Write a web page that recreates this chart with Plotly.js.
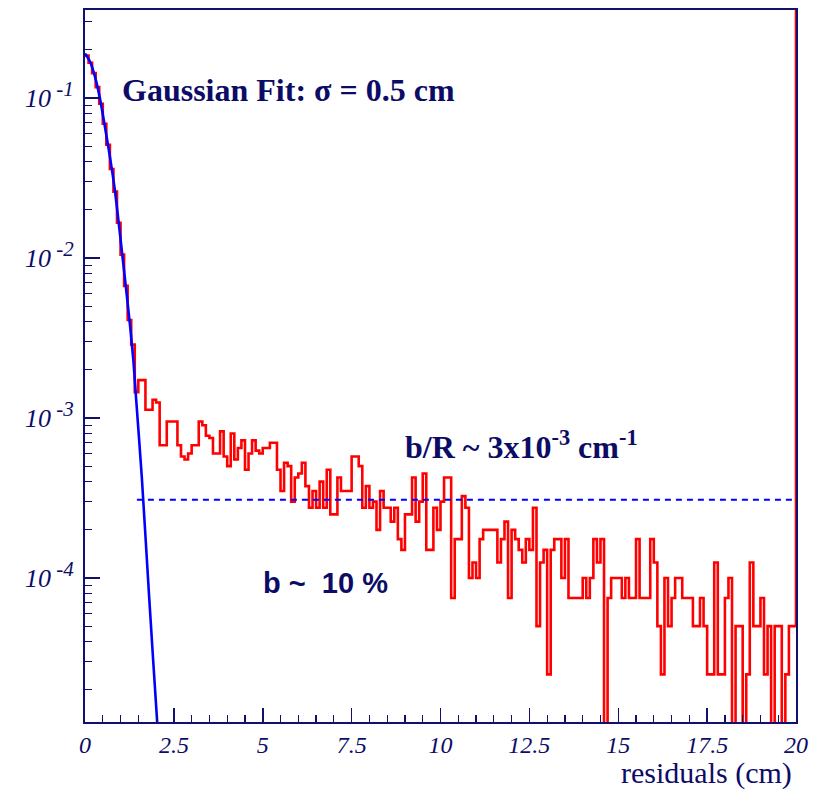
<!DOCTYPE html>
<html>
<head>
<meta charset="utf-8">
<script src="https://cdn.plot.ly/plotly-3.0.1.min.js"></script>
<style>html,body{margin:0;padding:0;background:#fff;}#chart{width:814px;height:790px;}</style>
</head>
<body>
<div id="chart"></div>
<script>
// ---- data ----
const binWidth = 0.1;          // cm
const nEntries = 40000;        // normalisation (1 entry = 2.5e-5)
const counts = [
 7360,6640,5720,4680,3680,2760,2040,1440,1040,664,
 420,268,164,115,58,69,69,45,45,52,
 50,27,27,38,38,38,27,23,22,24,
 27,27,38,36,31,30,24,24,33,23,
 20,32,22,26,29,19,24,29,25,24,
 26,26,28,28,19,14,21,20,12,17,
 18,21,15,11,14,11,16,11,19,10,
 10,17,14,14,14,23,23,20,11,15,
 11,12,8,14,11,11,9,11,7,6,
 10,10,17,9,12,18,6,6,11,8,
 12,17,17,3,7,7,13,11,4,5,
 4,7,8,8,8,8,5,7,9,3,
 8,7,6,5,7,6,11,2,5,6,
 1,6,7,7,4,7,3,3,3,3,
 4,3,4,7,5,7,0,3,4,4,
 4,3,4,3,3,7,3,3,3,7,
 5,2,1,4,2,3,4,4,3,3,
 3,2,2,3,2,1,1,5,1,1,
 3,4,0,2,2,0,1,5,2,2,
 3,1,2,0,2,2,0,1,2,2
];
// Gaussian fit curve
const fitX = [0, 0.14, 0.28, 0.42, 0.56, 0.70, 0.84, 0.96, 1.06, 1.17, 1.27, 1.36, 1.44, 1.60, 1.80, 2.03, 2.10];
const fitY = [0.19, 0.169, 0.136, 0.0995, 0.0662, 0.043, 0.0266, 0.0157, 0.00995, 0.0060, 0.00372, 0.0023, 0.0013, 0.00042, 0.000079, 0.0000126, 0.000008];
// background level (dashed line)
const bgLevel = 3.08e-4;
const bgFrom = 1.46, bgTo = 20;
// axis labels
const xTickVals = [0, 2.5, 5, 7.5, 10, 12.5, 15, 17.5, 20];
const xTickText = ['0', '2.5', '5', '7.5', '10', '12.5', '15', '17.5', '20'];
const yTickVals = [1e-4, 1e-3, 1e-2, 1e-1];
const yExponents = ['-4', '-3', '-2', '-1'];

// ---- build traces ----
const navy = '#101070';
const textNavy = '#0c0c66';
const yTickText = yExponents.map(e => '10<sup><span style="font-size:21px">&nbsp;' + e + '</span></sup>');
const histX = [], histY = [];
counts.forEach((c, i) => {
  histX.push(i * binWidth);
  histY.push(c > 0 ? c / nEntries : 1e-8);
});
const xEnd = counts.length * binWidth;
histX.push(xEnd, xEnd);
histY.push(histY[histY.length - 1], 1);

const yMinor = [];
for (let e = -5; e <= -1; e++) for (let m = 2; m <= 9; m++) yMinor.push(m * Math.pow(10, e));
const xMinor = [];
for (let v = 0; v <= 20.001; v += 0.5) xMinor.push(Math.round(v * 10) / 10);

const traces = [
  { x: histX, y: histY, type: 'scatter', mode: 'lines',
    line: { shape: 'hv', color: '#ff0000', width: 2.6 }, hoverinfo: 'skip' },
  { x: fitX, y: fitY, type: 'scatter', mode: 'lines',
    line: { shape: 'spline', smoothing: 0.6, color: '#0000ff', width: 2.6 }, hoverinfo: 'skip' },
  { x: [bgFrom, bgTo], y: [bgLevel, bgLevel], type: 'scatter', mode: 'lines',
    line: { color: '#0000ff', width: 2, dash: '6px,5px' }, hoverinfo: 'skip' }
];

const serif = '"Liberation Serif", serif';
const layout = {
  width: 814, height: 790,
  margin: { l: 85, r: 18, t: 10, b: 68 },
  paper_bgcolor: '#ffffff', plot_bgcolor: '#ffffff',
  showlegend: false,
  xaxis: {
    range: [0, 20], showgrid: false, zeroline: false,
    showline: true, linecolor: navy, linewidth: 2, mirror: true,
    ticks: 'inside', ticklen: 14, tickwidth: 1.5, tickcolor: navy,
    tickmode: 'array', tickvals: xTickVals, ticktext: xTickText,
    tickfont: { family: serif, size: 24, color: textNavy, style: 'italic' },
    minor: { tickmode: 'array', tickvals: xMinor, ticks: 'inside', ticklen: 7, tickwidth: 1.2, tickcolor: navy, showgrid: false }
  },
  yaxis: {
    type: 'log', range: [-4.9, -0.45], showgrid: false, zeroline: false,
    showline: true, linecolor: navy, linewidth: 2, mirror: true,
    ticks: 'inside', ticklen: 15, tickwidth: 1.5, tickcolor: navy,
    tickmode: 'array', tickvals: yTickVals, ticktext: yTickText,
    tickfont: { family: serif, size: 26, color: textNavy, style: 'italic' },
    ticklabelstandoff: 4,
    minor: { tickmode: 'array', tickvals: yMinor, ticks: 'inside', ticklen: 7, tickwidth: 1.2, tickcolor: navy, showgrid: false }
  },
  annotations: [
    { text: 'Gaussian Fit: σ = 0.5 cm', xref: 'x', yref: 'y', x: 0.98, y: -0.95,
      xanchor: 'left', yanchor: 'middle', showarrow: false,
      font: { family: serif, size: 32, color: textNavy, weight: 'bold' } },
    { text: 'b/R ~ 3x10<sup>-3</sup> cm<sup>-1</sup>', xref: 'x', yref: 'y', x: 8.94, y: -3.17,
      xanchor: 'left', yanchor: 'middle', showarrow: false,
      font: { family: serif, size: 32, color: textNavy, weight: 'bold' } },
    { text: 'b ~&nbsp; 10 %', xref: 'x', yref: 'y', x: 4.96, y: -4.03,
      xanchor: 'left', yanchor: 'middle', showarrow: false,
      font: { family: '"Liberation Sans", sans-serif', size: 29, color: textNavy, weight: 'bold' } },
    { text: 'residuals (cm)', xref: 'paper', yref: 'paper', x: 1, y: -0.072,
      xanchor: 'right', yanchor: 'middle', xshift: -2, showarrow: false,
      font: { family: serif, size: 30, color: textNavy } }
  ]
};

Plotly.newPlot('chart', traces, layout, { staticPlot: true, displayModeBar: false });
</script>
</body>
</html>
